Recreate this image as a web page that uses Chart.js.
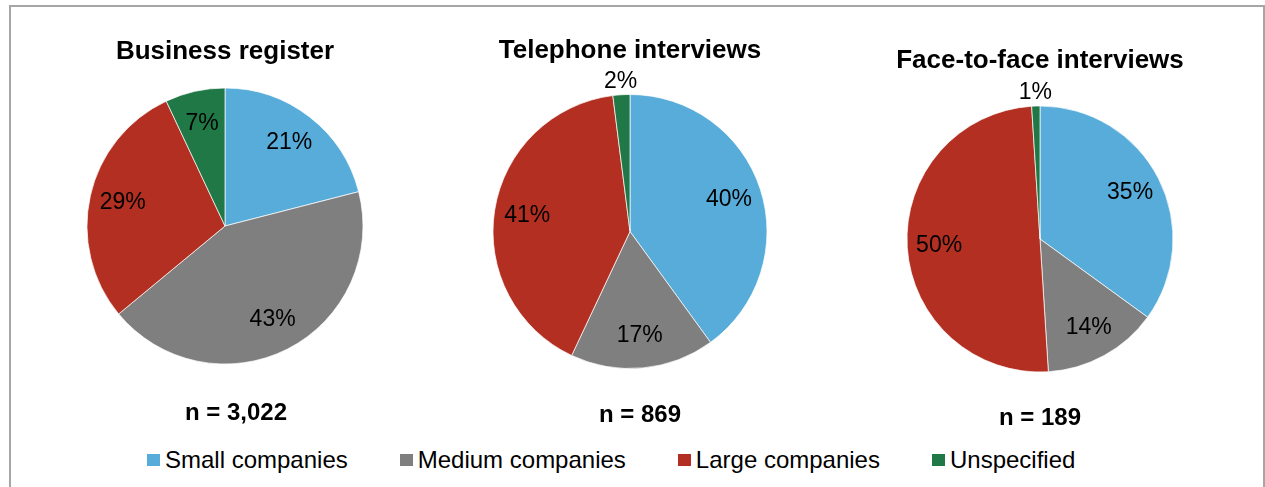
<!DOCTYPE html>
<html>
<head>
<meta charset="utf-8">
<script src="https://cdn.jsdelivr.net/npm/chart.js@4"></script>
<style>
  body { margin: 0; background: #fff; width: 1265px; height: 487px; overflow: hidden; position: relative;
         font-family: 'Liberation Sans', Arial, sans-serif; color: #000; }
  #frame { position: absolute; left: 9px; top: 5px; width: 1256px; height: 520px; border: 2px solid #a6a6a6; box-sizing: border-box; }
  .pie { position: absolute; top: 0; }
  .note { position: absolute; width: 200px; margin-left: -100px; text-align: center; font-weight: bold; font-size: 24px; line-height: 28px; }
  #legend { position: absolute; left: 147px; top: 446px; display: flex; gap: 52px; font-size: 24px; line-height: 28px; }
  #legend .item { display: flex; align-items: center; }
  #legend .box { display: inline-block; width: 13px; height: 12px; margin-right: 5px; }
</style>
</head>
<body>
<div id="frame"></div>
<div id="legend"></div>
<script>
// company size groups and their colours
const categories = ['Small companies', 'Medium companies', 'Large companies', 'Unspecified'];
const colors = ['#57acd9', '#7f7f7f', '#b22f21', '#217847'];

// one pie per data source, shares in percent
const sources = ['Business register', 'Telephone interviews', 'Face-to-face interviews'];
const sampleSizes = ['n = 3,022', 'n = 869', 'n = 189'];
const businessRegister = [21, 43, 29, 7];
const telephoneInterviews = [40, 17, 41, 2];
const faceToFace = [35, 14, 50, 1];
const shares = [businessRegister, telephoneInterviews, faceToFace];

const FONT = "'Liberation Sans', Arial, sans-serif";
const W = 440, H = 440;
const TITLE_SIZE = 26;

// where each pie, its title and its n label sit on the page
const pieLayout = [
  { titleX: 228, titleY: 52, cx: 225, cy: 226, r: 138, noteX: 236, noteY: 412 },
  { titleX: 634, titleY: 50.5, cx: 630, cy: 231.5, r: 137, noteX: 640, noteY: 414 },
  { titleX: 1058, titleY: 60.5, cx: 1040, cy: 239, r: 133, noteX: 1040, noteY: 417 }
];

// percentage labels inside the slices, small slices get theirs outside
const percentLabels = {
  id: 'percentLabels',
  afterDatasetsDraw(chart) {
    const ctx = chart.ctx;
    const values = chart.data.datasets[0].data;
    ctx.save();
    ctx.font = '23px ' + FONT;
    ctx.fillStyle = '#000';
    ctx.textAlign = 'center';
    ctx.textBaseline = 'middle';
    chart.getDatasetMeta(0).data.forEach((arc, i) => {
      const p = arc.getProps(['x', 'y', 'startAngle', 'endAngle', 'outerRadius'], true);
      const mid = (p.startAngle + p.endAngle) / 2;
      const dist = values[i] < 5 ? p.outerRadius + 13 : p.outerRadius * 0.76;
      ctx.fillText(values[i] + '%', p.x + Math.cos(mid) * dist, p.y + Math.sin(mid) * dist);
    });
    ctx.restore();
  }
};

shares.forEach((values, k) => {
  const L = pieLayout[k];
  const lineH = TITLE_SIZE * 1.2;
  const titleTop = L.titleY - lineH / 2;
  const areaTop = L.cy - L.r - 10;
  const areaBottom = L.cy + L.r + 10;

  const canvas = document.createElement('canvas');
  canvas.className = 'pie';
  canvas.width = W;
  canvas.height = H;
  canvas.style.left = (L.titleX - W / 2) + 'px';
  document.body.appendChild(canvas);

  new Chart(canvas, {
    type: 'pie',
    data: {
      labels: categories,
      datasets: [{
        data: values,
        backgroundColor: colors,
        borderColor: 'rgba(255,255,255,0.7)',
        borderWidth: 1
      }]
    },
    options: {
      responsive: false,
      animation: false,
      radius: L.r,
      layout: { padding: { left: 0, right: 2 * (L.titleX - L.cx), top: 0, bottom: H - areaBottom } },
      plugins: {
        legend: { display: false },
        tooltip: { enabled: false },
        title: {
          display: true,
          text: sources[k],
          color: '#000',
          font: { family: FONT, size: TITLE_SIZE, weight: 'bold' },
          padding: { top: titleTop, bottom: areaTop - titleTop - lineH }
        }
      }
    },
    plugins: [percentLabels]
  });

  const note = document.createElement('div');
  note.className = 'note';
  note.style.left = L.noteX + 'px';
  note.style.top = (L.noteY - 14) + 'px';
  note.textContent = sampleSizes[k];
  document.body.appendChild(note);
});

// shared legend under the three pies
const legend = document.getElementById('legend');
categories.forEach((name, i) => {
  const item = document.createElement('div');
  item.className = 'item';
  const box = document.createElement('span');
  box.className = 'box';
  box.style.background = colors[i];
  item.appendChild(box);
  item.appendChild(document.createTextNode(name));
  legend.appendChild(item);
});
</script>
</body>
</html>
